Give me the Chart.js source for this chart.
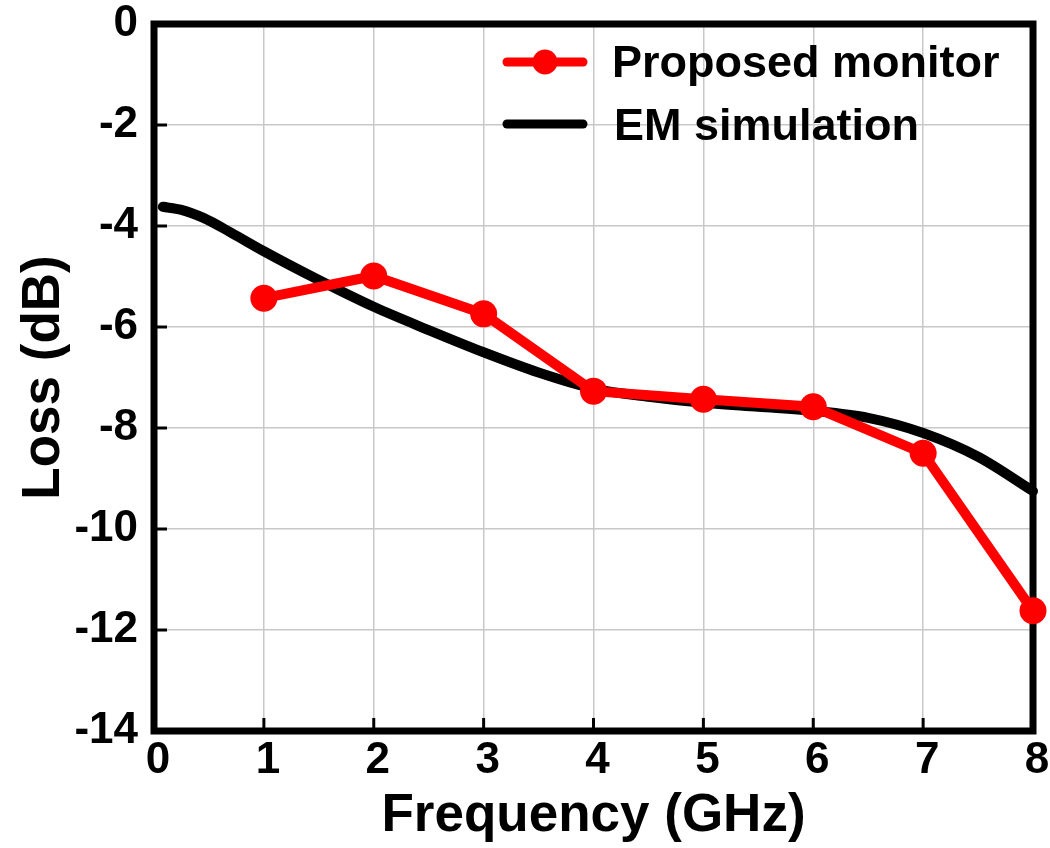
<!DOCTYPE html>
<html>
<head>
<meta charset="utf-8">
<script src="https://cdn.jsdelivr.net/npm/chart.js@4"></script>
<style>
  html, body { margin: 0; padding: 0; background: #fff; }
  #wrap { width: 1050px; height: 848px; }
</style>
</head>
<body>
<div id="wrap"><canvas id="lossChart" width="1050" height="848"></canvas></div>
<script>
// Mesures du moniteur (points rouges)
const monitorFreq = [1, 2, 3, 4, 5, 6, 7, 8];
const monitorLoss = [-5.43, -4.99, -5.74, -7.27, -7.43, -7.58, -8.5, -11.62];

// Simulation EM (courbe noire)
const simFreq = [0.08, 0.25, 0.45, 0.7, 1, 1.5, 2, 2.5, 3, 3.5, 4, 4.5, 5, 5.5, 6, 6.5, 7, 7.5, 8];
const simLoss = [-3.62, -3.68, -3.84, -4.13, -4.5, -5.07, -5.6, -6.06, -6.5, -6.9, -7.22, -7.38, -7.5, -7.58, -7.66, -7.8, -8.1, -8.57, -9.25];

const xTicks = [0, 1, 2, 3, 4, 5, 6, 7, 8];
const yTicks = [0, -2, -4, -6, -8, -10, -12, -14];

const legendItems = ['Proposed monitor', 'EM simulation'];

const FONT = "'Liberation Sans', Arial, sans-serif";

// cadre + petites graduations vers l'intérieur
const framePlugin = {
  id: 'frame',
  beforeDatasetsDraw(chart) {
    const { ctx, chartArea: a, scales } = chart;
    ctx.save();
    ctx.strokeStyle = '#000';
    ctx.lineWidth = 3;
    yTicks.forEach(v => {
      const y = scales.y.getPixelForValue(v);
      ctx.beginPath(); ctx.moveTo(a.left, y); ctx.lineTo(a.left + 13, y); ctx.stroke();
    });
    xTicks.forEach(v => {
      const x = scales.x.getPixelForValue(v);
      ctx.beginPath(); ctx.moveTo(x, a.bottom); ctx.lineTo(x, a.bottom - 13); ctx.stroke();
    });
    ctx.lineWidth = 7;
    ctx.strokeRect(a.left, a.top, a.right - a.left, a.bottom - a.top);
    ctx.restore();
  }
};

// légende dans le coin haut droit
const legendPlugin = {
  id: 'insideLegend',
  afterDraw(chart) {
    const ctx = chart.ctx;
    const rows = [
      { y: 62, color: '#ff0000', marker: true, textX: 612, textY: 77 },
      { y: 124, color: '#000000', marker: false, textX: 614, textY: 140 }
    ];
    ctx.save();
    rows.forEach((r, i) => {
      ctx.strokeStyle = r.color;
      ctx.lineWidth = 9;
      ctx.lineCap = 'round';
      ctx.beginPath(); ctx.moveTo(507, r.y); ctx.lineTo(583, r.y); ctx.stroke();
      if (r.marker) {
        ctx.fillStyle = r.color;
        ctx.beginPath(); ctx.arc(545, r.y, 12.5, 0, Math.PI * 2); ctx.fill();
      }
      ctx.fillStyle = '#000';
      ctx.font = 'bold 45px ' + FONT;
      ctx.textBaseline = 'alphabetic';
      ctx.fillText(legendItems[i], r.textX, r.textY);
    });
    ctx.restore();
  }
};

const ctx = document.getElementById('lossChart').getContext('2d');
new Chart(ctx, {
  type: 'line',
  data: {
    datasets: [
      {
        label: legendItems[0],
        data: monitorFreq.map((f, i) => ({ x: f, y: monitorLoss[i] })),
        borderColor: '#ff0000',
        backgroundColor: '#ff0000',
        borderWidth: 10,
        pointRadius: 13.5,
        pointBorderWidth: 0,
        tension: 0,
        clip: false
      },
      {
        label: legendItems[1],
        data: simFreq.map((f, i) => ({ x: f, y: simLoss[i] })),
        borderColor: '#000000',
        borderWidth: 10,
        pointRadius: 0,
        cubicInterpolationMode: 'monotone',
        borderCapStyle: 'round',
        clip: false
      }
    ]
  },
  options: {
    responsive: false,
    animation: false,
    layout: { padding: { left: 0, right: 17, top: 0, bottom: 0 } },
    plugins: { legend: { display: false }, tooltip: { enabled: false } },
    scales: {
      x: {
        type: 'linear',
        min: 0, max: 8,
        afterFit(scale) { scale.height = 117; },
        afterBuildTicks(scale) { scale.ticks = xTicks.map(v => ({ value: v })); },
        grid: { color: '#c8c8c8', lineWidth: 1.5, drawTicks: true, tickLength: 5, tickColor: 'rgba(0,0,0,0)' },
        border: { display: false },
        ticks: { color: '#000', padding: 3, labelOffset: 4,
                 font: { family: FONT, size: 44, weight: 'bold', lineHeight: 1.0 } },
        title: { display: true, text: 'Frequency (GHz)', color: '#000', padding: { top: 0, bottom: 0 },
                 font: { family: FONT, size: 53, weight: 'bold', lineHeight: 1.2 } }
      },
      y: {
        type: 'linear',
        min: -14, max: 0,
        afterFit(scale) { scale.width = 154; },
        afterBuildTicks(scale) { scale.ticks = yTicks.map(v => ({ value: v })); },
        grid: { color: '#c8c8c8', lineWidth: 1.5, drawTicks: true, tickLength: 14, tickColor: 'rgba(0,0,0,0)' },
        border: { display: false },
        ticks: { color: '#000', padding: 2,
                 font: { family: FONT, size: 44, weight: 'bold', lineHeight: 1.0 } },
        title: { display: true, text: 'Loss (dB)', color: '#000', padding: { top: 13, bottom: 0 },
                 font: { family: FONT, size: 53, weight: 'bold', lineHeight: 1.2 } }
      }
    }
  },
  plugins: [framePlugin, legendPlugin]
});
</script>
</body>
</html>
